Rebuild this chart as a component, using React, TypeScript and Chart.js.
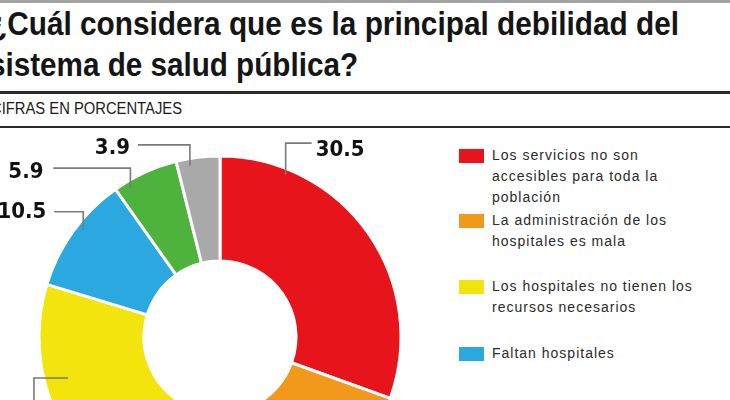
import { useEffect, useLayoutEffect, useRef } from 'react';
import { Chart, registerables } from 'chart.js';
import type { Plugin } from 'chart.js';

Chart.register(...registerables);

// survey answers, clockwise from 12 o'clock
const categories: string[][] = [
  ['Los servicios no son', 'accesibles para toda la', 'población'],
  ['La administración de los', 'hospitales es mala'],
  ['Los hospitales no tienen los', 'recursos necesarios'],
  ['Faltan hospitales'],
  ['Otros'],
  ['No sabe / No responde'],
];
const values = [30.5, 25.8, 23.4, 10.5, 5.9, 3.9];
const valueLabels = ['30.5', '25.8', '23.4', '10.5', '5.9', '3.9'];
const colors = ['#e8141c', '#f2991c', '#f2e40c', '#2aa8df', '#4db33d', '#a9a9a9'];
const legendCount = 4;

// leader line for each slice: anchor on the ring, then an elbow to the number
type Leader = {
  frac: number; r: number; path: 'vh' | 'hv'; dx: number; dy: number;
  align: CanvasTextAlign; tdx: number; tdy: number;
} | null;
const leaders: Leader[] = [
  { frac: 0.2, r: 0.97, path: 'vh', dx: 26, dy: -31, align: 'left', tdx: 4, tdy: 7 },
  null,
  { frac: 0.62, r: 0.87, path: 'hv', dx: -34, dy: 40, align: 'left', tdx: 0, tdy: 14 },
  { frac: 0.56, r: 0.96, path: 'vh', dx: -29, dy: -18, align: 'right', tdx: -8, tdy: 0 },
  { frac: 0.2, r: 0.96, path: 'vh', dx: -77, dy: -20, align: 'right', tdx: -10, tdy: 4 },
  { frac: 0.29, r: 0.96, path: 'vh', dx: -52, dy: -21, align: 'right', tdx: -8, tdy: 3 },
];

const leaderPlugin: Plugin<'doughnut'> = {
  id: 'leaders',
  afterDraw(chart) {
    const ctx = chart.ctx;
    const meta = chart.getDatasetMeta(0);
    meta.data.forEach((el, i) => {
      const l = leaders[i];
      if (!l) return;
      const p = el.getProps(['x', 'y', 'startAngle', 'endAngle', 'outerRadius'], true) as any;
      const a = p.startAngle + l.frac * (p.endAngle - p.startAngle);
      const ax = p.x + Math.cos(a) * p.outerRadius * l.r;
      const ay = p.y + Math.sin(a) * p.outerRadius * l.r;
      const ex = l.path === 'vh' ? ax : ax + l.dx;
      const ey = l.path === 'vh' ? ay + l.dy : ay;
      const fx = ax + l.dx;
      const fy = ay + l.dy;
      ctx.save();
      ctx.strokeStyle = '#7a7a7a';
      ctx.lineWidth = 1.6;
      ctx.beginPath();
      ctx.moveTo(ax, ay);
      ctx.lineTo(ex, ey);
      ctx.lineTo(fx, fy);
      ctx.stroke();
      ctx.fillStyle = '#111';
      ctx.font = 'bold 22px "DejaVu Sans Condensed", "DejaVu Sans", sans-serif';
      ctx.textAlign = l.align;
      ctx.textBaseline = 'middle';
      ctx.fillText(valueLabels[i], fx + l.tdx, fy + l.tdy);
      ctx.restore();
    });
  },
};

function Donut() {
  const canvasRef = useRef<HTMLCanvasElement>(null);

  useEffect(() => {
    if (!canvasRef.current) return;
    const chart = new Chart(canvasRef.current, {
      type: 'doughnut',
      data: {
        labels: categories.map((c) => c.join(' ')),
        datasets: [{
          data: values,
          backgroundColor: colors,
          borderColor: '#ffffff',
          borderWidth: 3,
          hoverOffset: 0,
        }],
      },
      options: {
        responsive: false,
        animation: false,
        cutout: '42%',
        layout: { padding: { left: 37.5, right: 37.5, top: 24.5, bottom: 0.5 } },
        plugins: { legend: { display: false }, tooltip: { enabled: false } },
      },
      plugins: [leaderPlugin],
    });
    return () => chart.destroy();
  }, []);

  return (
    <canvas
      ref={canvasRef}
      width={440}
      height={390}
      style={{ position: 'absolute', left: 0, top: 130, width: 440, height: 390 }}
    />
  );
}

// squeeze a line of text to a given width (no condensed face installed)
function Squeezed({ text, width, style }: { text: string; width: number; style: React.CSSProperties }) {
  const ref = useRef<HTMLSpanElement>(null);
  useLayoutEffect(() => {
    const el = ref.current;
    if (!el) return;
    el.style.transform = 'none';
    const w = el.getBoundingClientRect().width;
    if (w > 0) el.style.transform = `scaleX(${width / w})`;
  }, [text, width]);
  return (
    <span ref={ref} style={{ ...style, display: 'inline-block', whiteSpace: 'nowrap', transformOrigin: '0 0' }}>
      {text}
    </span>
  );
}

const legendTops = [145, 210, 276, 343];
const titleFont = 'bold 34px/41px "Liberation Sans", Arial, sans-serif';

export default function App() {
  return (
    <div style={{
      position: 'fixed', left: 0, top: 0, width: 730, height: 400, overflow: 'hidden',
      background: '#fff', fontFamily: '"Liberation Sans", Arial, sans-serif',
    }}>
      <div style={{ position: 'absolute', left: 0, top: 0, width: 730, height: 3, background: '#a3a3a3' }} />
      <div style={{ position: 'absolute', left: -11, top: 3 }}>
        <Squeezed text="¿Cuál considera que es la principal debilidad del" width={690}
          style={{ font: titleFont, color: '#151515' }} />
      </div>
      <div style={{ position: 'absolute', left: -11, top: 44 }}>
        <Squeezed text="sistema de salud pública?" width={369}
          style={{ font: titleFont, color: '#151515' }} />
      </div>
      <div style={{ position: 'absolute', left: 0, top: 91, width: 730, height: 3, background: '#2a2a2a' }} />
      <div style={{ position: 'absolute', left: -9, top: 100 }}>
        <Squeezed text="CIFRAS EN PORCENTAJES" width={191}
          style={{ font: '16px/18px "Liberation Sans", Arial, sans-serif', color: '#1a1a1a' }} />
      </div>
      <div style={{ position: 'absolute', left: 0, top: 126, width: 730, height: 2, background: '#2a2a2a' }} />
      <Donut />
      {categories.slice(0, legendCount).map((lines, i) => (
        <div key={i} style={{ position: 'absolute', left: 459, top: legendTops[i] }}>
          <div style={{ position: 'absolute', left: 0, top: 4, width: 25, height: 14, background: colors[i] }} />
          <div style={{
            position: 'absolute', left: 33, top: 0, whiteSpace: 'nowrap',
            fontSize: 14, lineHeight: '21px', letterSpacing: 1, color: '#2a2a2a',
          }}>
            {lines.map((t, j) => <div key={j}>{t}</div>)}
          </div>
        </div>
      ))}
    </div>
  );
}
